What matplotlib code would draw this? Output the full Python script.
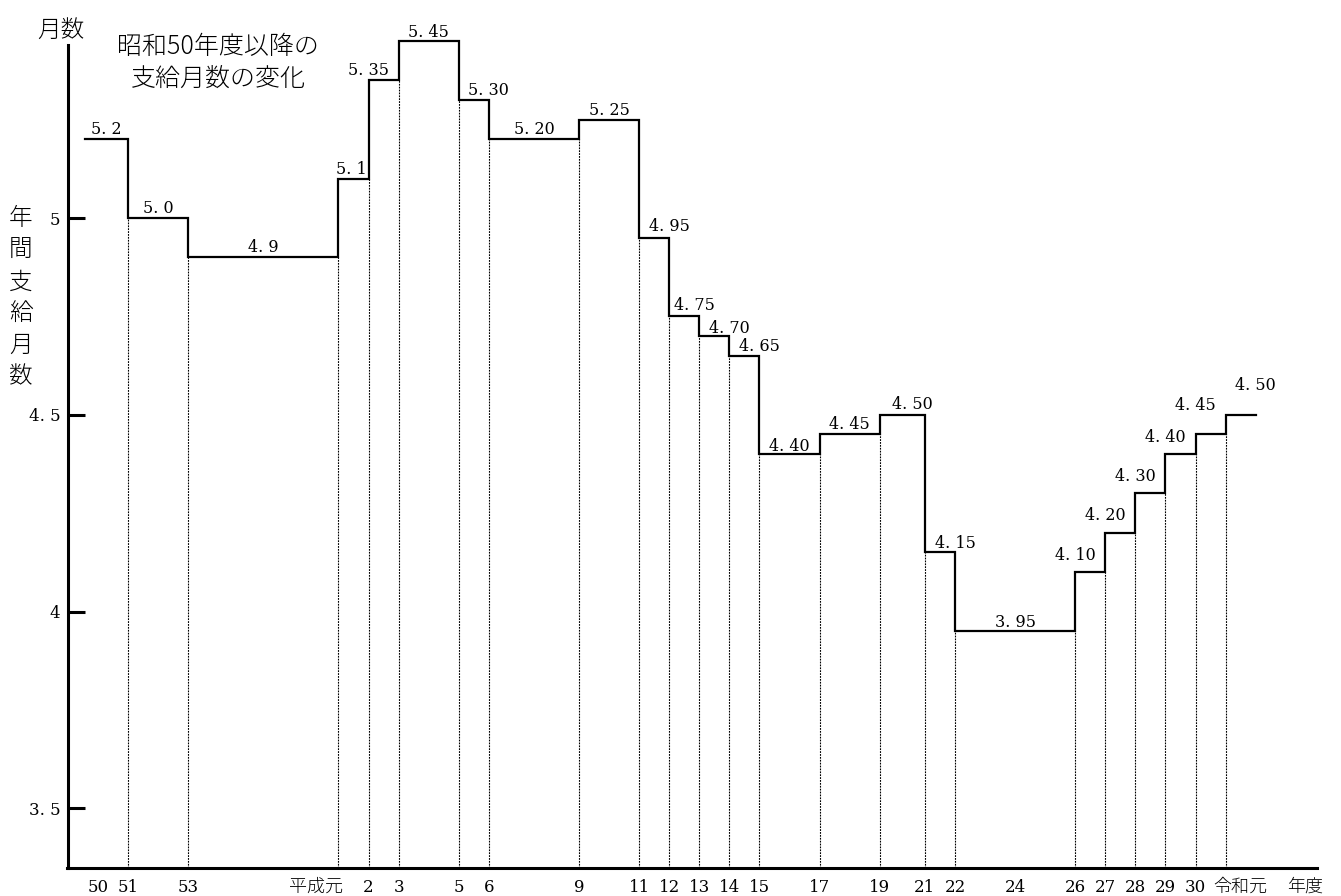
import matplotlib
matplotlib.use('Agg')
import matplotlib.pyplot as plt

plt.rcParams['font.family'] = ['DejaVu Serif', 'Noto Sans CJK JP']

# ---- data ----
periods = ['昭和50', '51', '53', '平成元', '2', '3', '5', '6', '9', '11', '12', '13',
           '14', '15', '17', '19', '21', '22', '26', '27', '28', '29', '30', '令和元']
months = [5.2, 5.0, 4.9, 5.1, 5.35, 5.45, 5.30, 5.20, 5.25, 4.95, 4.75, 4.70,
          4.65, 4.40, 4.45, 4.50, 4.15, 3.95, 4.10, 4.20, 4.30, 4.40, 4.45, 4.50]
value_labels = ['5.2', '5.0', '4.9', '5.1', '5.35', '5.45', '5.30', '5.20', '5.25', '4.95',
                '4.75', '4.70', '4.65', '4.40', '4.45', '4.50', '4.15', '3.95', '4.10',
                '4.20', '4.30', '4.40', '4.45', '4.50']
# start of each period on the chart's (compressed) time scale
start_pos = [-1.43, 0, 2, 7, 8, 9, 11, 12, 15, 17, 18, 19, 20, 21, 23, 25, 26.5, 27.5,
             31.5, 32.5, 33.5, 34.5, 35.5, 36.5]
end_pos = 37.5
tick_pos = [-1, 0, 2, 6.25, 8, 9, 11, 12, 15, 17, 18, 19, 20, 21, 23, 25, 26.5, 27.5,
            29.5, 31.5, 32.5, 33.5, 34.5, 35.5, 37.0, 39.15]
tick_labels = ['50', '51', '53', '平成元', '2', '3', '5', '6', '9', '11', '12', '13', '14',
               '15', '17', '19', '21', '22', '24', '26', '27', '28', '29', '30', '令和元', '年度']
y_ticks = [3.5, 4.0, 4.5, 5.0]
y_tick_labels = ['3. 5', '4', '4. 5', '5']

# label placement (fraction along segment, pixels above line)
label_frac = [0.5, 0.5, 0.5, 0.43, 0, 0.5, 1, 0.5, 0.5, 1, 0.83, 1, 1, 0.5, 0.5, 0.73,
              1, 0.5, 0, 0, 0, 0, 0, 1]
label_dy = [11, 11, 11, 10, 11, 10, 11, 11, 10, 12, 12, 9, 10, 9, 11, 11, 10, 10,
            18, 18, 18, 18, 30, 30]

W, H = 1341, 896
fig = plt.figure(figsize=(W / 100, H / 100), dpi=100)
ax = fig.add_axes([67.5 / W, 28 / H, 1249.5 / W, 858 / H])
ymin, ymax = 3.348, 5.529
ax.set_xlim(-2.012, 39.54)
ax.set_ylim(ymin, ymax)

xs = start_pos + [end_pos]
ys = months + [months[-1]]
ax.step(xs, ys, where='post', color='black', lw=1.6, solid_joinstyle='miter', zorder=3)

for i in range(1, len(months)):
    ax.vlines(start_pos[i], ymin, min(months[i - 1], months[i]), colors='black',
              linestyles=(0, (1.6, 1.0)), lw=0.8, zorder=2)

pt = 72 / 100  # points per pixel
for i, (v, lab) in enumerate(zip(months, value_labels)):
    x0 = start_pos[i]
    x1 = start_pos[i + 1] if i + 1 < len(start_pos) else end_pos
    xc = x0 + (x1 - x0) * label_frac[i]
    ax.annotate(lab.replace('.', '. '), xy=(xc, v), xytext=(0, (label_dy[i] - 5.5) * pt),
                textcoords='offset points', ha='center', va='baseline', fontsize=11.5,
                family='DejaVu Serif')

for s in ['top', 'right']:
    ax.spines[s].set_visible(False)
ax.spines['left'].set_linewidth(2.2)
ax.spines['bottom'].set_linewidth(2.2)
ax.spines['left'].set_bounds(ymin, 5.44)

ax.set_yticks(y_ticks)
ax.set_yticklabels(y_tick_labels, fontsize=12)
ax.tick_params(axis='y', direction='in', length=17 * pt, width=2.2, pad=5)

ax.set_xticks(tick_pos)
ax.set_xticklabels(tick_labels, fontsize=12)
ax.tick_params(axis='x', length=0, pad=17 * pt)
for t in ax.get_xticklabels():
    t.set_verticalalignment('center_baseline')
    if not t.get_text().isdigit():
        t.set_fontsize(13)
        t.set_fontfamily(['Noto Sans CJK JP'])
        t.set_fontweight('light')

cjk = ['Noto Sans CJK JP']
fig.text(61 / W, 1 - 30 / H, '月数', ha='center', va='center', fontsize=17, family=cjk,
         fontweight='light')
fig.text(218 / W, 1 - 62.5 / H, '昭和50年度以降の\n支給月数の変化', ha='center', va='center',
         fontsize=18, linespacing=1.25, family=cjk, fontweight='light')
fig.text(21 / W, 1 - 298 / H, '年\n間\n支\n給\n月\n数', ha='center', va='center',
         fontsize=17, linespacing=1.35, family=cjk, fontweight='light')

fig.savefig('out.png', dpi=100)
